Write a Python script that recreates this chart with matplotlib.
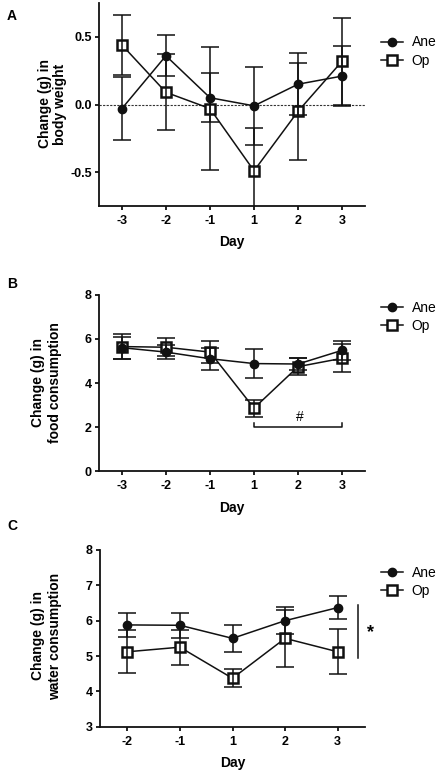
import matplotlib
matplotlib.use("Agg")
import matplotlib.pyplot as plt
import numpy as np

plt.rcParams['font.family'] = ['Liberation Sans', 'DejaVu Sans']

# panel A - body weight
days_a = ["-3", "-2", "-1", "1", "2", "3"]
ane_a = [-0.03, 0.36, 0.05, -0.01, 0.15, 0.21]
ane_a_err = [0.23, 0.15, 0.18, 0.29, 0.23, 0.22]
op_a = [0.44, 0.09, -0.03, -0.49, -0.05, 0.32]
op_a_err = [0.22, 0.28, 0.455, 0.32, 0.36, 0.32]

# panel B - food consumption
days_b = ["-3", "-2", "-1", "1", "2", "3"]
ane_b = [5.6, 5.4, 5.1, 4.88, 4.86, 5.48]
ane_b_err = [0.5, 0.3, 0.5, 0.67, 0.28, 0.42]
op_b = [5.65, 5.62, 5.4, 2.86, 4.74, 5.12]
op_b_err = [0.55, 0.4, 0.48, 0.38, 0.38, 0.63]

# panel C - water consumption
days_c = ["-2", "-1", "1", "2", "3"]
ane_c = [5.88, 5.87, 5.5, 6.0, 6.37]
ane_c_err = [0.35, 0.35, 0.38, 0.38, 0.33]
op_c = [5.12, 5.25, 4.37, 5.5, 5.12]
op_c_err = [0.61, 0.5, 0.25, 0.8, 0.64]

W, H = 442, 773
fig = plt.figure(figsize=(W / 100, H / 100), dpi=100)


def fx(px):
    return px / W


def fy(py):
    return 1 - py / H


def panel(rect, days, ane, ane_err, op, op_err):
    ax = fig.add_axes(rect)
    x = np.arange(len(days))
    ax.errorbar(x, op, yerr=op_err, fmt='none', ecolor='#111111', elinewidth=1.1,
                capsize=6.5, capthick=1.1, zorder=5)
    ax.errorbar(x, ane, yerr=ane_err, fmt='none', ecolor='#111111', elinewidth=1.1,
                capsize=6.5, capthick=1.1, zorder=5)
    ax.plot(x, op, color='#111111', lw=1.1, marker='s', ms=7.5, mfc='white',
            mec='#111111', mew=1.8, label='Op', zorder=3)
    ax.plot(x, ane, color='#111111', lw=1.1, marker='o', ms=6, mfc='#111111',
            mec='#111111', label='Ane', zorder=4)
    ax.set_xticks(x)
    ax.set_xticklabels(days)
    ax.set_xlim(-0.52, len(days) - 0.48)
    for s in ['top', 'right']:
        ax.spines[s].set_visible(False)
    for s in ['left', 'bottom']:
        ax.spines[s].set_linewidth(1.3)
        ax.spines[s].set_color('#111111')
    ax.tick_params(length=3.2, width=1.3, color='#111111', labelsize=9)
    ax.tick_params(axis='x', pad=3.3)
    ax.tick_params(axis='y', pad=2)
    for lab in ax.get_xticklabels():
        lab.set_fontweight('bold')
    ax.set_xlabel('Day', fontsize=10, fontweight='bold', labelpad=6)
    h, l = ax.get_legend_handles_labels()
    return ax, [h[1], h[0]], [l[1], l[0]]


def add_legend(ax, h, l, ycen):
    ax.legend(h, l, loc='center left', bbox_to_anchor=(fx(381), fy(ycen)),
              bbox_transform=fig.transFigure, frameon=False, fontsize=10,
              handlelength=1.6, handletextpad=0.6, labelspacing=0.3,
              borderpad=0, borderaxespad=0)


def bold_y(ax):
    for lab in ax.get_yticklabels():
        lab.set_fontweight('bold')


# A
axA, h, l = panel([fx(99), fy(206), fx(365) - fx(99), fy(3) - fy(206)],
                  days_a, ane_a, ane_a_err, op_a, op_a_err)
axA.set_ylim(-0.75, 0.75)
axA.set_yticks([-0.5, 0.0, 0.5])
axA.set_yticklabels(['-0.5', '0.0', '0.5'])
bold_y(axA)
axA.axhline(0, color='#333333', lw=0.8, ls=(0, (2, 1.2)), zorder=1)
add_legend(axA, h, l, 51.5)
fig.text(fx(52.5), fy(104), 'Change (g) in\nbody weight', rotation=90, ha='center',
         va='center', fontsize=10, fontweight='bold', linespacing=1.15)
fig.text(fx(12), fy(16), 'A', ha='center', va='center', fontsize=10, fontweight='bold')

# B
axB, h, l = panel([fx(99), fy(471.3), fx(365) - fx(99), fy(294.7) - fy(471.3)],
                  days_b, ane_b, ane_b_err, op_b, op_b_err)
axB.set_ylim(0, 8)
axB.set_yticks([0, 2, 4, 6, 8])
bold_y(axB)
axB.plot([3, 3, 5, 5], [2.2, 2.0, 2.0, 2.2], color='#111111', lw=1.1)
axB.text(4.05, 2.15, '#', ha='center', va='bottom', fontsize=10)
add_legend(axB, h, l, 317.2)
fig.text(fx(46.5), fy(383), 'Change (g) in\nfood consumption', rotation=90, ha='center',
         va='center', fontsize=10, fontweight='bold', linespacing=1.2)
fig.text(fx(12), fy(284), 'B', ha='center', va='center', fontsize=10, fontweight='bold')

# C
axC, h, l = panel([fx(100), fy(726.7), fx(365) - fx(100), fy(550) - fy(726.7)],
                  days_c, ane_c, ane_c_err, op_c, op_c_err)
axC.set_ylim(3, 8)
axC.set_yticks([3, 4, 5, 6, 7, 8])
bold_y(axC)
axC.plot([4.39, 4.39], [4.95, 6.44], color='#111111', lw=1.1, clip_on=False)
axC.text(4.62, 5.66, '*', ha='center', va='center', fontsize=13, fontweight='bold')
add_legend(axC, h, l, 581.7)
fig.text(fx(46.5), fy(636), 'Change (g) in\nwater consumption', rotation=90, ha='center',
         va='center', fontsize=10, fontweight='bold', linespacing=1.2)
fig.text(fx(12), fy(526), 'C', ha='center', va='center', fontsize=10, fontweight='bold')

fig.savefig('out.png', dpi=100)
